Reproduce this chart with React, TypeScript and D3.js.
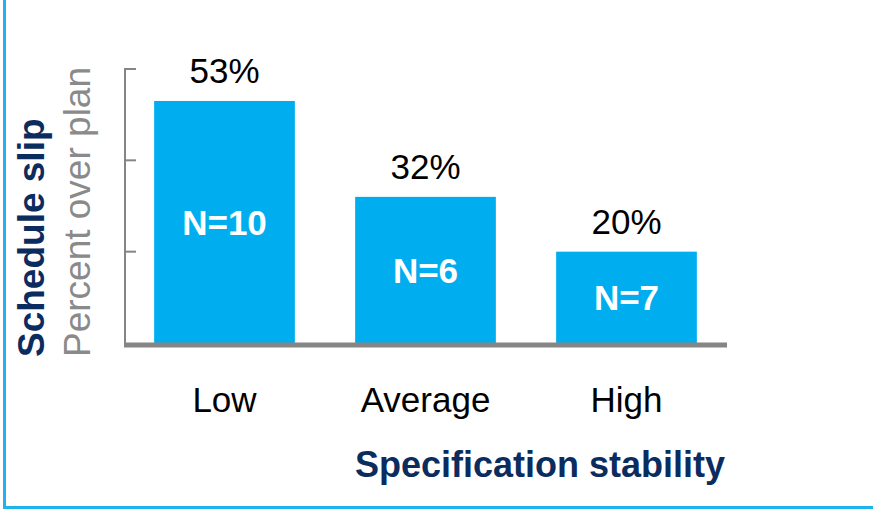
import React from "react";
import * as d3 from "d3";

const categories = ["Low", "Average", "High"];
const slipValues = [53, 32, 20];
const sampleSizes = ["N=10", "N=6", "N=7"];
const yTicks = [20, 40, 60];

const W = 873;
const H = 510;
const FONT = "'Liberation Sans', Arial, sans-serif";
const BAR = "#00AEEF";
const NAVY = "#0B2C5F";
const AXIS = "#858585";

export default function App() {
  const x = d3.scaleBand<string>().domain(categories).range([124, 727]).paddingInner(0.3).paddingOuter(0.15);
  const y = d3.scaleLinear().domain([0, 60]).range([343, 69]);

  return (
    <svg width={W} height={H} style={{ position: "absolute", left: 0, top: 0, background: "#fff" }} fontFamily={FONT}>
      {/* frame */}
      <line x1={4.5} x2={4.5} y1={0} y2={509} stroke="#1DB3EC" strokeWidth={3} />
      <line x1={3} x2={W} y1={507.5} y2={507.5} stroke="#1DB3EC" strokeWidth={3} />

      {/* bars */}
      {categories.map((c, i) => (
        <rect key={c} x={x(c)} y={y(slipValues[i])} width={x.bandwidth()} height={y(0) - y(slipValues[i])} fill={BAR} />
      ))}

      {/* axis */}
      <line x1={125} x2={125} y1={y(60)} y2={y(0)} stroke={AXIS} strokeWidth={2} />
      {yTicks.map((t) => (
        <line key={t} x1={124} x2={136} y1={y(t)} y2={y(t)} stroke={AXIS} strokeWidth={2} />
      ))}
      <line x1={124} x2={727} y1={y(0) + 2} y2={y(0) + 2} stroke={AXIS} strokeWidth={5} />

      {/* value labels */}
      {categories.map((c, i) => (
        <text key={c + "v"} x={x(c)! + x.bandwidth() / 2} y={y(slipValues[i]) - 18} textAnchor="middle" fontSize={35} fill="#000">
          {slipValues[i]}%
        </text>
      ))}

      {/* N labels */}
      {categories.map((c, i) => (
        <text key={c + "n"} x={x(c)! + x.bandwidth() / 2} y={(y(slipValues[i]) + y(0)) / 2} dy="0.36em" textAnchor="middle" fontSize={35} fontWeight="bold" fill="#fff">
          {sampleSizes[i]}
        </text>
      ))}

      {/* category labels */}
      {categories.map((c) => (
        <text key={c + "c"} x={x(c)! + x.bandwidth() / 2} y={412} textAnchor="middle" fontSize={35} fill="#000">
          {c}
        </text>
      ))}

      {/* x title */}
      <text x={540} y={477} textAnchor="middle" fontSize={36} fontWeight="bold" fill={NAVY}>
        Specification stability
      </text>

      {/* y title */}
      <text transform="translate(44,357) rotate(-90)" fontSize={37} fontWeight="bold" fill={NAVY}>
        Schedule slip
      </text>
      <text transform="translate(90,357) rotate(-90)" fontSize={37} fill="#8A8A8A">
        Percent over plan
      </text>
    </svg>
  );
}
